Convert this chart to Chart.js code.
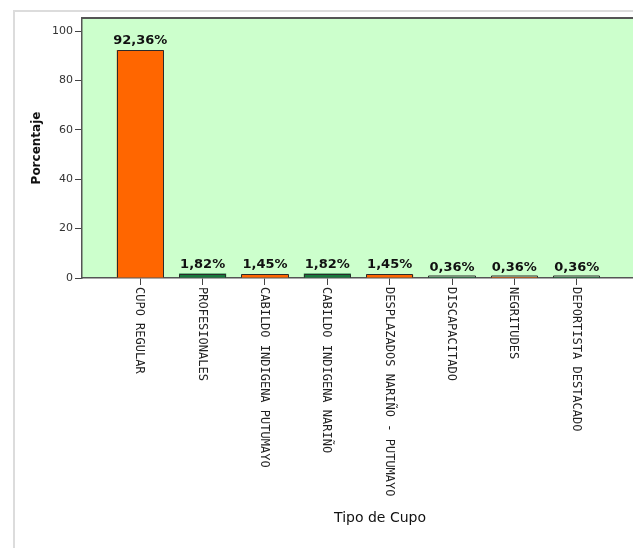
<!DOCTYPE html>
<html lang="es">
<head>
<meta charset="utf-8">
<title>Tipo de Cupo</title>
<script src="https://cdn.jsdelivr.net/npm/chart.js@4/dist/chart.umd.min.js"></script>
<style>
  html, body { margin: 0; padding: 0; background: #ffffff; overflow: hidden; }
  #wrap { position: relative; width: 633px; height: 548px; overflow: hidden; }
  canvas { display: block; }
</style>
</head>
<body>
<div id="wrap"><canvas id="chart" width="680" height="548"></canvas></div>
<script>
// Tipos de cupo y porcentaje de estudiantes en cada uno
const categories = [
  'CUPO REGULAR',
  'PROFESIONALES',
  'CABILDO INDIGENA PUTUMAYO',
  'CABILDO INDIGENA NARIÑO',
  'DESPLAZADOS NARIÑO - PUTUMAYO',
  'DISCAPACITADO',
  'NEGRITUDES',
  'DEPORTISTA DESTACADO'
];
const percentages = [92.36, 1.82, 1.45, 1.82, 1.45, 0.36, 0.36, 0.36];
const yTicks = [0, 20, 40, 60, 80, 100];

const ORANGE = '#ff6600';
const GREEN = '#177a3d';
const barColors = categories.map((_, i) => (i % 2 === 0 ? ORANGE : GREEN));

const fmtPct = v => v.toFixed(2).replace('.', ',') + '%';

// Fondo verde del área de trazado, borde superior y marco exterior
const plotFrame = {
  id: 'plotFrame',
  beforeDraw(chart) {
    const { ctx, chartArea: a } = chart;
    ctx.save();
    ctx.strokeStyle = '#dcdcdc';
    ctx.lineWidth = 2;
    ctx.strokeRect(14, 11, chart.width + 40, chart.height + 40);
    ctx.fillStyle = '#ccffcc';
    ctx.fillRect(a.left, a.top, a.right - a.left, a.bottom - a.top);
    ctx.restore();
  },
  afterDraw(chart) {
    const { ctx, chartArea: a } = chart;
    ctx.save();
    ctx.strokeStyle = '#555555';
    ctx.lineWidth = 2;
    ctx.beginPath();
    ctx.moveTo(a.left, a.top);
    ctx.lineTo(a.right, a.top);
    ctx.stroke();
    ctx.restore();
  }
};

// Contorno oscuro de cada barra (visible también en las barras muy bajas)
const barOutline = {
  id: 'barOutline',
  afterDatasetsDraw(chart) {
    const { ctx } = chart;
    const meta = chart.getDatasetMeta(0);
    ctx.save();
    ctx.strokeStyle = '#2b2b2b';
    ctx.lineWidth = 1;
    meta.data.forEach(bar => {
      const left = Math.round(bar.x - bar.width / 2) + 0.5;
      const right = Math.round(bar.x + bar.width / 2) - 0.5;
      const top = Math.min(Math.round(bar.y) + 0.5, bar.base - 1.5);
      const base = bar.base;
      ctx.beginPath();
      ctx.moveTo(left, base);
      ctx.lineTo(left, top);
      ctx.lineTo(right, top);
      ctx.lineTo(right, base);
      ctx.stroke();
    });
    ctx.restore();
  }
};

// Etiquetas de categoría giradas, leídas de arriba hacia abajo
const verticalLabels = {
  id: 'verticalLabels',
  afterDraw(chart) {
    const { ctx, chartArea: a } = chart;
    const xs = chart.scales.x;
    ctx.save();
    ctx.fillStyle = '#222222';
    ctx.font = '12px "DejaVu Sans Mono"';
    ctx.textAlign = 'left';
    ctx.textBaseline = 'middle';
    categories.forEach((label, i) => {
      const x = xs.getPixelForValue(i);
      ctx.save();
      ctx.translate(x - 1, a.bottom + 9);
      ctx.rotate(Math.PI / 2);
      ctx.fillText(label, 0, 0);
      ctx.restore();
    });
    ctx.restore();
  }
};

// Porcentaje escrito encima de cada barra
const valueLabels = {
  id: 'valueLabels',
  afterDatasetsDraw(chart) {
    const { ctx } = chart;
    const meta = chart.getDatasetMeta(0);
    ctx.save();
    ctx.fillStyle = '#111111';
    ctx.font = 'bold 13px "DejaVu Sans"';
    ctx.textAlign = 'center';
    ctx.textBaseline = 'alphabetic';
    meta.data.forEach((bar, i) => {
      ctx.fillText(fmtPct(percentages[i]), bar.x, bar.y - 6);
    });
    ctx.restore();
  }
};

new Chart(document.getElementById('chart'), {
  type: 'bar',
  data: {
    datasets: [{
      data: percentages.map((v, i) => ({ x: i, y: v })),
      backgroundColor: barColors,
      borderWidth: 0,
      categoryPercentage: 1,
      barPercentage: 0.755
    }]
  },
  options: {
    responsive: false,
    animation: false,
    devicePixelRatio: 1,
    layout: { padding: { top: 18, right: 2, bottom: 0, left: 0 } },
    plugins: {
      legend: { display: false },
      tooltip: { enabled: false }
    },
    scales: {
      x: {
        type: 'linear',
        offset: false,
        min: -0.935,
        max: 8.625,
        afterBuildTicks: s => { s.ticks = categories.map((_, i) => ({ value: i })); },
        afterFit: s => { s.height = 270; },
        ticks: { display: false },
        grid: {
          display: true,
          offset: false,
          drawOnChartArea: false,
          drawTicks: true,
          tickLength: 7,
          tickColor: '#444444',
          tickWidth: 1
        },
        border: { display: true, color: '#555555', width: 1.5 },
        title: {
          display: true,
          text: 'Tipo de Cupo',
          color: '#111111',
          font: { family: '"DejaVu Sans"', size: 14, weight: 'normal' },
          padding: { top: 22, bottom: 21 }
        }
      },
      y: {
        min: 0,
        max: 105.3,
        afterBuildTicks: s => { s.ticks = yTicks.map(v => ({ value: v })); },
        afterFit: s => { s.width = 82; },
        ticks: {
          color: '#333333',
          padding: 2,
          font: { family: '"DejaVu Sans"', size: 11 }
        },
        grid: {
          display: true,
          drawOnChartArea: false,
          drawTicks: true,
          tickLength: 7,
          tickColor: '#444444',
          tickWidth: 1
        },
        border: { display: true, color: '#555555', width: 1.5 },
        title: {
          display: true,
          text: 'Porcentaje',
          color: '#111111',
          font: { family: '"DejaVu Sans"', size: 12, weight: 'bold' },
          padding: { top: 30, bottom: 30 }
        }
      }
    }
  },
  plugins: [plotFrame, barOutline, verticalLabels, valueLabels]
});
</script>
</body>
</html>
